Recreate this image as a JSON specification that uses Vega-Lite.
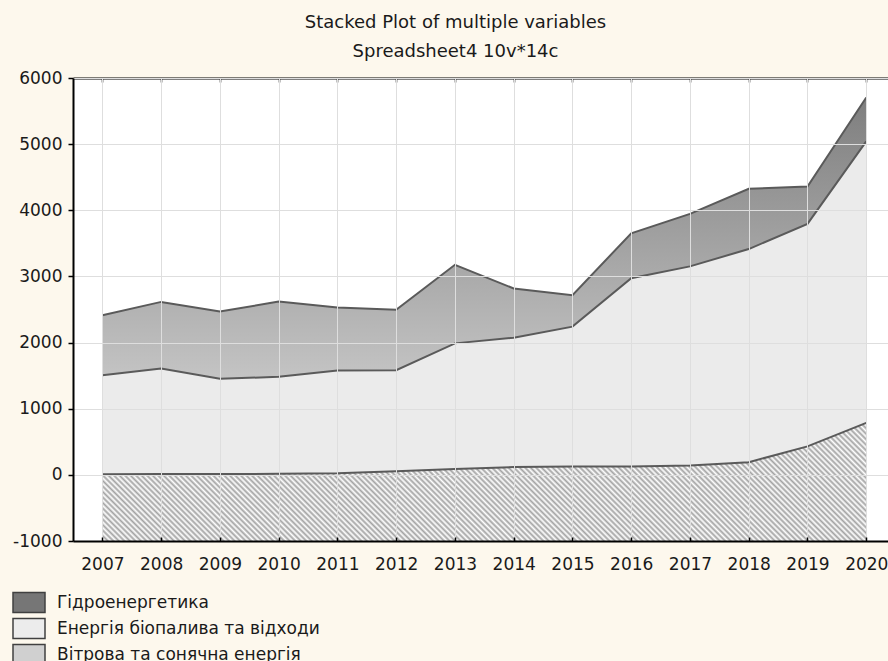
{
"$schema": "https://vega.github.io/schema/vega-lite/v6.json",
"width": 815,
"height": 463,
"autosize": {"type": "none"},
"padding": {"left": 73, "top": 78, "right": 0, "bottom": 120},
"background": "#fdf8ed",
"title": {"text": "Stacked Plot of multiple variables", "subtitle": "Spreadsheet4 10v*14c", "anchor": "middle", "dx": -25, "offset": 8, "subtitlePadding": 11, "font": "DejaVu Sans", "fontSize": 18, "fontWeight": "normal", "color": "#1a1a1a", "subtitleFont": "DejaVu Sans", "subtitleFontSize": 18, "subtitleColor": "#1a1a1a"},
"config": {"view": {"fill": "white", "stroke": null}},
"data": {"values": [
{"year":2007,"Вітрова та сонячна енергія":10,"Енергія біопалива та відходи":1497,"Гідроенергетика":906},
{"year":2008,"Вітрова та сонячна енергія":12,"Енергія біопалива та відходи":1596,"Гідроенергетика":1007},
{"year":2009,"Вітрова та сонячна енергія":14,"Енергія біопалива та відходи":1438,"Гідроенергетика":1017},
{"year":2010,"Вітрова та сонячна енергія":15,"Енергія біопалива та відходи":1467,"Гідроенергетика":1138},
{"year":2011,"Вітрова та сонячна енергія":25,"Енергія біопалива та відходи":1553,"Гідроенергетика":952},
{"year":2012,"Вітрова та сонячна енергія":55,"Енергія біопалива та відходи":1528,"Гідроенергетика":912},
{"year":2013,"Вітрова та сонячна енергія":90,"Енергія біопалива та відходи":1898,"Гідроенергетика":1188},
{"year":2014,"Вітрова та сонячна енергія":117,"Енергія біопалива та відходи":1957,"Гідроенергетика":744},
{"year":2015,"Вітрова та сонячна енергія":126,"Енергія біопалива та відходи":2115,"Гідроенергетика":475},
{"year":2016,"Вітрова та сонячна енергія":126,"Енергія біопалива та відходи":2848,"Гідроенергетика":678},
{"year":2017,"Вітрова та сонячна енергія":141,"Енергія біопалива та відходи":3011,"Гідроенергетика":793},
{"year":2018,"Вітрова та сонячна енергія":192,"Енергія біопалива та відходи":3222,"Гідроенергетика":911},
{"year":2019,"Вітрова та сонячна енергія":430,"Енергія біопалива та відходи":3364,"Гідроенергетика":566},
{"year":2020,"Вітрова та сонячна енергія":785,"Енергія біопалива та відходи":4258,"Гідроенергетика":663}
]},
"transform": [
{"fold": ["Вітрова та сонячна енергія", "Енергія біопалива та відходи", "Гідроенергетика"], "as": ["series", "value"]},
{"lookup": "series", "from": {"data": {"values": [{"series": "Вітрова та сонячна енергія", "rank": 1}, {"series": "Енергія біопалива та відходи", "rank": 2}, {"series": "Гідроенергетика", "rank": 3}]}, "key": "series", "fields": ["rank"]}},
{"stack": "value", "groupby": ["year"], "sort": [{"field": "rank", "order": "ascending"}], "as": ["v0", "v1"]}
],
"resolve": {"axis": {"x": "independent"}},
"layer": [
{
"transform": [{"filter": "datum.rank === 1"}],
"mark": {"type": "area", "fill": {"gradient": "linear", "x1": 0, "y1": 1, "x2": 1.1276, "y2": 0.8257, "stops": [
{"offset":0,"color":"#a3a3a3"},{"offset":0.0031,"color":"#fff"},{"offset":0.0063,"color":"#a3a3a3"},{"offset":0.0094,"color":"#fff"},{"offset":0.0125,"color":"#a3a3a3"},{"offset":0.0156,"color":"#fff"},{"offset":0.0188,"color":"#a3a3a3"},{"offset":0.0219,"color":"#fff"},{"offset":0.025,"color":"#a3a3a3"},{"offset":0.0281,"color":"#fff"},{"offset":0.0313,"color":"#a3a3a3"},{"offset":0.0344,"color":"#fff"},{"offset":0.0375,"color":"#a3a3a3"},{"offset":0.0406,"color":"#fff"},{"offset":0.0438,"color":"#a3a3a3"},{"offset":0.0469,"color":"#fff"},{"offset":0.05,"color":"#a3a3a3"},{"offset":0.0531,"color":"#fff"},{"offset":0.0563,"color":"#a3a3a3"},{"offset":0.0594,"color":"#fff"},{"offset":0.0625,"color":"#a3a3a3"},{"offset":0.0656,"color":"#fff"},{"offset":0.0688,"color":"#a3a3a3"},{"offset":0.0719,"color":"#fff"},{"offset":0.075,"color":"#a3a3a3"},{"offset":0.0781,"color":"#fff"},{"offset":0.0813,"color":"#a3a3a3"},{"offset":0.0844,"color":"#fff"},{"offset":0.0875,"color":"#a3a3a3"},{"offset":0.0906,"color":"#fff"},{"offset":0.0938,"color":"#a3a3a3"},{"offset":0.0969,"color":"#fff"},
{"offset":0.1,"color":"#a3a3a3"},{"offset":0.1031,"color":"#fff"},{"offset":0.1063,"color":"#a3a3a3"},{"offset":0.1094,"color":"#fff"},{"offset":0.1125,"color":"#a3a3a3"},{"offset":0.1156,"color":"#fff"},{"offset":0.1188,"color":"#a3a3a3"},{"offset":0.1219,"color":"#fff"},{"offset":0.125,"color":"#a3a3a3"},{"offset":0.1281,"color":"#fff"},{"offset":0.1313,"color":"#a3a3a3"},{"offset":0.1344,"color":"#fff"},{"offset":0.1375,"color":"#a3a3a3"},{"offset":0.1406,"color":"#fff"},{"offset":0.1438,"color":"#a3a3a3"},{"offset":0.1469,"color":"#fff"},{"offset":0.15,"color":"#a3a3a3"},{"offset":0.1531,"color":"#fff"},{"offset":0.1563,"color":"#a3a3a3"},{"offset":0.1594,"color":"#fff"},{"offset":0.1625,"color":"#a3a3a3"},{"offset":0.1656,"color":"#fff"},{"offset":0.1688,"color":"#a3a3a3"},{"offset":0.1719,"color":"#fff"},{"offset":0.175,"color":"#a3a3a3"},{"offset":0.1781,"color":"#fff"},{"offset":0.1813,"color":"#a3a3a3"},{"offset":0.1844,"color":"#fff"},{"offset":0.1875,"color":"#a3a3a3"},{"offset":0.1906,"color":"#fff"},{"offset":0.1938,"color":"#a3a3a3"},{"offset":0.1969,"color":"#fff"},
{"offset":0.2,"color":"#a3a3a3"},{"offset":0.2031,"color":"#fff"},{"offset":0.2063,"color":"#a3a3a3"},{"offset":0.2094,"color":"#fff"},{"offset":0.2125,"color":"#a3a3a3"},{"offset":0.2156,"color":"#fff"},{"offset":0.2188,"color":"#a3a3a3"},{"offset":0.2219,"color":"#fff"},{"offset":0.225,"color":"#a3a3a3"},{"offset":0.2281,"color":"#fff"},{"offset":0.2313,"color":"#a3a3a3"},{"offset":0.2344,"color":"#fff"},{"offset":0.2375,"color":"#a3a3a3"},{"offset":0.2406,"color":"#fff"},{"offset":0.2438,"color":"#a3a3a3"},{"offset":0.2469,"color":"#fff"},{"offset":0.25,"color":"#a3a3a3"},{"offset":0.2531,"color":"#fff"},{"offset":0.2563,"color":"#a3a3a3"},{"offset":0.2594,"color":"#fff"},{"offset":0.2625,"color":"#a3a3a3"},{"offset":0.2656,"color":"#fff"},{"offset":0.2688,"color":"#a3a3a3"},{"offset":0.2719,"color":"#fff"},{"offset":0.275,"color":"#a3a3a3"},{"offset":0.2781,"color":"#fff"},{"offset":0.2813,"color":"#a3a3a3"},{"offset":0.2844,"color":"#fff"},{"offset":0.2875,"color":"#a3a3a3"},{"offset":0.2906,"color":"#fff"},{"offset":0.2938,"color":"#a3a3a3"},{"offset":0.2969,"color":"#fff"},
{"offset":0.3,"color":"#a3a3a3"},{"offset":0.3031,"color":"#fff"},{"offset":0.3063,"color":"#a3a3a3"},{"offset":0.3094,"color":"#fff"},{"offset":0.3125,"color":"#a3a3a3"},{"offset":0.3156,"color":"#fff"},{"offset":0.3188,"color":"#a3a3a3"},{"offset":0.3219,"color":"#fff"},{"offset":0.325,"color":"#a3a3a3"},{"offset":0.3281,"color":"#fff"},{"offset":0.3313,"color":"#a3a3a3"},{"offset":0.3344,"color":"#fff"},{"offset":0.3375,"color":"#a3a3a3"},{"offset":0.3406,"color":"#fff"},{"offset":0.3438,"color":"#a3a3a3"},{"offset":0.3469,"color":"#fff"},{"offset":0.35,"color":"#a3a3a3"},{"offset":0.3531,"color":"#fff"},{"offset":0.3563,"color":"#a3a3a3"},{"offset":0.3594,"color":"#fff"},{"offset":0.3625,"color":"#a3a3a3"},{"offset":0.3656,"color":"#fff"},{"offset":0.3688,"color":"#a3a3a3"},{"offset":0.3719,"color":"#fff"},{"offset":0.375,"color":"#a3a3a3"},{"offset":0.3781,"color":"#fff"},{"offset":0.3813,"color":"#a3a3a3"},{"offset":0.3844,"color":"#fff"},{"offset":0.3875,"color":"#a3a3a3"},{"offset":0.3906,"color":"#fff"},{"offset":0.3938,"color":"#a3a3a3"},{"offset":0.3969,"color":"#fff"},
{"offset":0.4,"color":"#a3a3a3"},{"offset":0.4031,"color":"#fff"},{"offset":0.4063,"color":"#a3a3a3"},{"offset":0.4094,"color":"#fff"},{"offset":0.4125,"color":"#a3a3a3"},{"offset":0.4156,"color":"#fff"},{"offset":0.4188,"color":"#a3a3a3"},{"offset":0.4219,"color":"#fff"},{"offset":0.425,"color":"#a3a3a3"},{"offset":0.4281,"color":"#fff"},{"offset":0.4313,"color":"#a3a3a3"},{"offset":0.4344,"color":"#fff"},{"offset":0.4375,"color":"#a3a3a3"},{"offset":0.4406,"color":"#fff"},{"offset":0.4438,"color":"#a3a3a3"},{"offset":0.4469,"color":"#fff"},{"offset":0.45,"color":"#a3a3a3"},{"offset":0.4531,"color":"#fff"},{"offset":0.4563,"color":"#a3a3a3"},{"offset":0.4594,"color":"#fff"},{"offset":0.4625,"color":"#a3a3a3"},{"offset":0.4656,"color":"#fff"},{"offset":0.4688,"color":"#a3a3a3"},{"offset":0.4719,"color":"#fff"},{"offset":0.475,"color":"#a3a3a3"},{"offset":0.4781,"color":"#fff"},{"offset":0.4813,"color":"#a3a3a3"},{"offset":0.4844,"color":"#fff"},{"offset":0.4875,"color":"#a3a3a3"},{"offset":0.4906,"color":"#fff"},{"offset":0.4938,"color":"#a3a3a3"},{"offset":0.4969,"color":"#fff"},
{"offset":0.5,"color":"#a3a3a3"},{"offset":0.5031,"color":"#fff"},{"offset":0.5063,"color":"#a3a3a3"},{"offset":0.5094,"color":"#fff"},{"offset":0.5125,"color":"#a3a3a3"},{"offset":0.5156,"color":"#fff"},{"offset":0.5188,"color":"#a3a3a3"},{"offset":0.5219,"color":"#fff"},{"offset":0.525,"color":"#a3a3a3"},{"offset":0.5281,"color":"#fff"},{"offset":0.5313,"color":"#a3a3a3"},{"offset":0.5344,"color":"#fff"},{"offset":0.5375,"color":"#a3a3a3"},{"offset":0.5406,"color":"#fff"},{"offset":0.5438,"color":"#a3a3a3"},{"offset":0.5469,"color":"#fff"},{"offset":0.55,"color":"#a3a3a3"},{"offset":0.5531,"color":"#fff"},{"offset":0.5563,"color":"#a3a3a3"},{"offset":0.5594,"color":"#fff"},{"offset":0.5625,"color":"#a3a3a3"},{"offset":0.5656,"color":"#fff"},{"offset":0.5688,"color":"#a3a3a3"},{"offset":0.5719,"color":"#fff"},{"offset":0.575,"color":"#a3a3a3"},{"offset":0.5781,"color":"#fff"},{"offset":0.5813,"color":"#a3a3a3"},{"offset":0.5844,"color":"#fff"},{"offset":0.5875,"color":"#a3a3a3"},{"offset":0.5906,"color":"#fff"},{"offset":0.5938,"color":"#a3a3a3"},{"offset":0.5969,"color":"#fff"},
{"offset":0.6,"color":"#a3a3a3"},{"offset":0.6031,"color":"#fff"},{"offset":0.6063,"color":"#a3a3a3"},{"offset":0.6094,"color":"#fff"},{"offset":0.6125,"color":"#a3a3a3"},{"offset":0.6156,"color":"#fff"},{"offset":0.6188,"color":"#a3a3a3"},{"offset":0.6219,"color":"#fff"},{"offset":0.625,"color":"#a3a3a3"},{"offset":0.6281,"color":"#fff"},{"offset":0.6313,"color":"#a3a3a3"},{"offset":0.6344,"color":"#fff"},{"offset":0.6375,"color":"#a3a3a3"},{"offset":0.6406,"color":"#fff"},{"offset":0.6438,"color":"#a3a3a3"},{"offset":0.6469,"color":"#fff"},{"offset":0.65,"color":"#a3a3a3"},{"offset":0.6531,"color":"#fff"},{"offset":0.6563,"color":"#a3a3a3"},{"offset":0.6594,"color":"#fff"},{"offset":0.6625,"color":"#a3a3a3"},{"offset":0.6656,"color":"#fff"},{"offset":0.6688,"color":"#a3a3a3"},{"offset":0.6719,"color":"#fff"},{"offset":0.675,"color":"#a3a3a3"},{"offset":0.6781,"color":"#fff"},{"offset":0.6813,"color":"#a3a3a3"},{"offset":0.6844,"color":"#fff"},{"offset":0.6875,"color":"#a3a3a3"},{"offset":0.6906,"color":"#fff"},{"offset":0.6938,"color":"#a3a3a3"},{"offset":0.6969,"color":"#fff"},
{"offset":0.7,"color":"#a3a3a3"},{"offset":0.7031,"color":"#fff"},{"offset":0.7063,"color":"#a3a3a3"},{"offset":0.7094,"color":"#fff"},{"offset":0.7125,"color":"#a3a3a3"},{"offset":0.7156,"color":"#fff"},{"offset":0.7188,"color":"#a3a3a3"},{"offset":0.7219,"color":"#fff"},{"offset":0.725,"color":"#a3a3a3"},{"offset":0.7281,"color":"#fff"},{"offset":0.7313,"color":"#a3a3a3"},{"offset":0.7344,"color":"#fff"},{"offset":0.7375,"color":"#a3a3a3"},{"offset":0.7406,"color":"#fff"},{"offset":0.7438,"color":"#a3a3a3"},{"offset":0.7469,"color":"#fff"},{"offset":0.75,"color":"#a3a3a3"},{"offset":0.7531,"color":"#fff"},{"offset":0.7563,"color":"#a3a3a3"},{"offset":0.7594,"color":"#fff"},{"offset":0.7625,"color":"#a3a3a3"},{"offset":0.7656,"color":"#fff"},{"offset":0.7688,"color":"#a3a3a3"},{"offset":0.7719,"color":"#fff"},{"offset":0.775,"color":"#a3a3a3"},{"offset":0.7781,"color":"#fff"},{"offset":0.7813,"color":"#a3a3a3"},{"offset":0.7844,"color":"#fff"},{"offset":0.7875,"color":"#a3a3a3"},{"offset":0.7906,"color":"#fff"},{"offset":0.7938,"color":"#a3a3a3"},{"offset":0.7969,"color":"#fff"},
{"offset":0.8,"color":"#a3a3a3"},{"offset":0.8031,"color":"#fff"},{"offset":0.8063,"color":"#a3a3a3"},{"offset":0.8094,"color":"#fff"},{"offset":0.8125,"color":"#a3a3a3"},{"offset":0.8156,"color":"#fff"},{"offset":0.8188,"color":"#a3a3a3"},{"offset":0.8219,"color":"#fff"},{"offset":0.825,"color":"#a3a3a3"},{"offset":0.8281,"color":"#fff"},{"offset":0.8313,"color":"#a3a3a3"},{"offset":0.8344,"color":"#fff"},{"offset":0.8375,"color":"#a3a3a3"},{"offset":0.8406,"color":"#fff"},{"offset":0.8438,"color":"#a3a3a3"},{"offset":0.8469,"color":"#fff"},{"offset":0.85,"color":"#a3a3a3"},{"offset":0.8531,"color":"#fff"},{"offset":0.8563,"color":"#a3a3a3"},{"offset":0.8594,"color":"#fff"},{"offset":0.8625,"color":"#a3a3a3"},{"offset":0.8656,"color":"#fff"},{"offset":0.8688,"color":"#a3a3a3"},{"offset":0.8719,"color":"#fff"},{"offset":0.875,"color":"#a3a3a3"},{"offset":0.8781,"color":"#fff"},{"offset":0.8813,"color":"#a3a3a3"},{"offset":0.8844,"color":"#fff"},{"offset":0.8875,"color":"#a3a3a3"},{"offset":0.8906,"color":"#fff"},{"offset":0.8938,"color":"#a3a3a3"},{"offset":0.8969,"color":"#fff"},
{"offset":0.9,"color":"#a3a3a3"},{"offset":0.9031,"color":"#fff"},{"offset":0.9063,"color":"#a3a3a3"},{"offset":0.9094,"color":"#fff"},{"offset":0.9125,"color":"#a3a3a3"},{"offset":0.9156,"color":"#fff"},{"offset":0.9188,"color":"#a3a3a3"},{"offset":0.9219,"color":"#fff"},{"offset":0.925,"color":"#a3a3a3"},{"offset":0.9281,"color":"#fff"},{"offset":0.9313,"color":"#a3a3a3"},{"offset":0.9344,"color":"#fff"},{"offset":0.9375,"color":"#a3a3a3"},{"offset":0.9406,"color":"#fff"},{"offset":0.9438,"color":"#a3a3a3"},{"offset":0.9469,"color":"#fff"},{"offset":0.95,"color":"#a3a3a3"},{"offset":0.9531,"color":"#fff"},{"offset":0.9563,"color":"#a3a3a3"},{"offset":0.9594,"color":"#fff"},{"offset":0.9625,"color":"#a3a3a3"},{"offset":0.9656,"color":"#fff"},{"offset":0.9688,"color":"#a3a3a3"},{"offset":0.9719,"color":"#fff"},{"offset":0.975,"color":"#a3a3a3"},{"offset":0.9781,"color":"#fff"},{"offset":0.9813,"color":"#a3a3a3"},{"offset":0.9844,"color":"#fff"},{"offset":0.9875,"color":"#a3a3a3"},{"offset":0.9906,"color":"#fff"},{"offset":0.9938,"color":"#a3a3a3"},{"offset":0.9969,"color":"#fff"},
{"offset":1,"color":"#a3a3a3"}
]}, "stroke": null},
"encoding": {
"x": {"field": "year", "type": "quantitative", "scale": {"domain": [2006.5, 2020.37], "nice": false, "zero": false},
 "axis": {"orient": "bottom", "values": [2007,2008,2009,2010,2011,2012,2013,2014,2015,2016,2017,2018,2019,2020], "format": "d", "title": null, "grid": true, "gridColor": "#dedede", "gridWidth": 1, "domainColor": "#000000", "domainWidth": 2, "tickColor": "#000000", "tickSize": -4, "tickWidth": 1.5, "labelFont": "DejaVu Sans", "labelFontSize": 17, "labelColor": "#1a1a1a", "labelPadding": 19, "labelFlush": false, "labelOverlap": false, "zindex": 1}},
"y": {"field": "v1", "type": "quantitative", "scale": {"domain": [-1000, 6000], "nice": false, "zero": false},
 "axis": {"values": [-1000,0,1000,2000,3000,4000,5000,6000], "labelExpr": "toString(datum.value)", "title": null, "grid": true, "gridColor": "#dedede", "gridWidth": 1, "domainColor": "#000000", "domainWidth": 2, "tickColor": "#000000", "tickSize": 5, "tickWidth": 1.5, "labelFont": "DejaVu Sans", "labelFontSize": 17, "labelColor": "#1a1a1a", "labelPadding": 6, "labelFlush": false, "zindex": 1}},
"y2": {"datum": -1000}
}
},
{
"transform": [{"filter": "datum.rank === 2"}],
"mark": {"type": "area", "fill": "#ebebeb", "stroke": null},
"encoding": {
"x": {"field": "year", "type": "quantitative", "axis": null},
"y": {"field": "v1", "type": "quantitative"},
"y2": {"field": "v0"}
}
},
{
"transform": [{"filter": "datum.rank === 3"}],
"mark": {"type": "area", "fill": {"gradient": "linear", "x1": 0, "y1": 0, "x2": 0, "y2": 1, "stops": [{"offset": 0, "color": "#7e7e7e"}, {"offset": 1, "color": "#c4c4c4"}]}, "stroke": null},
"encoding": {
"x": {"field": "year", "type": "quantitative", "axis": null},
"y": {"field": "v1", "type": "quantitative"},
"y2": {"field": "v0"}
}
},
{
"mark": {"type": "line", "color": "#5a5a5a", "strokeWidth": 2},
"encoding": {
"x": {"field": "year", "type": "quantitative", "axis": {"orient": "top", "values": [2007,2008,2009,2010,2011,2012,2013,2014,2015,2016,2017,2018,2019,2020], "labels": false, "grid": false, "title": null, "domainColor": "#000000", "domainWidth": 2, "tickColor": "#000000", "tickSize": -4, "tickWidth": 1.5}},
"y": {"field": "v1", "type": "quantitative"},
"detail": {"field": "series"}
}
},
{
"transform": [{"filter": "datum.rank > 3"}],
"mark": {"type": "point", "filled": true},
"encoding": {
"x": {"field": "year", "type": "quantitative", "axis": null},
"y": {"field": "v1", "type": "quantitative"},
"fill": {"field": "series", "type": "nominal",
 "scale": {"domain": ["Гідроенергетика", "Енергія біопалива та відходи", "Вітрова та сонячна енергія"], "range": ["#767676", "#ececec", "#d0d0d0"]},
 "legend": {"title": null, "orient": "none", "legendX": -55, "legendY": 513.5, "padding": 0, "symbolType": "M-1.6,-1H1.6V1H-1.6Z", "symbolSize": 400, "symbolOpacity": 1, "symbolStrokeColor": "#404040", "symbolStrokeWidth": 1.5, "labelFont": "DejaVu Sans", "labelFontSize": 17, "labelColor": "#1a1a1a", "labelOffset": 17, "rowPadding": 0, "labelLimit": 0}}
}
}
]
}
